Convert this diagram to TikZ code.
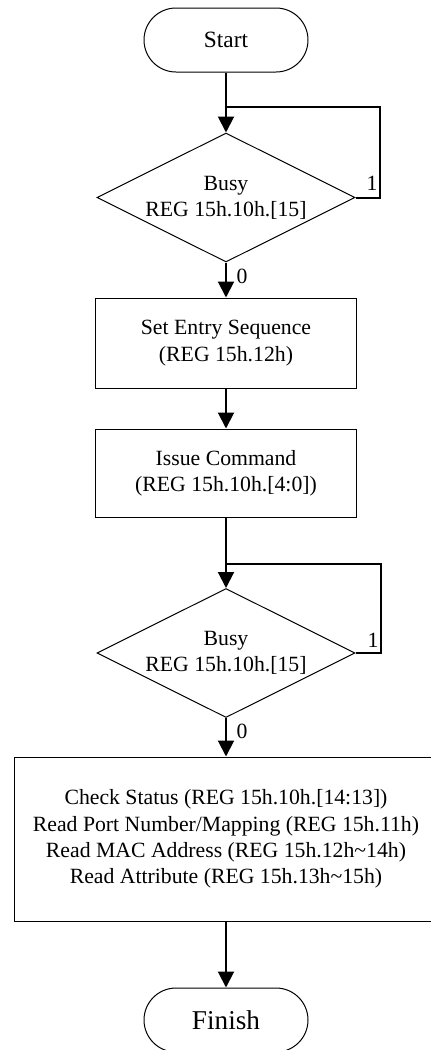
\documentclass[tikz,border=0pt]{standalone}
\usepackage{fontspec}
\setmainfont{Liberation Serif}
\usetikzlibrary{shapes.geometric,arrows.meta}

\tikzset{every picture/.style={line width=0.75pt}}
\tikzset{
  term/.style={draw,rectangle,rounded corners=24pt,minimum width=123pt,minimum height=48pt,inner sep=0pt},
  decision/.style={draw,diamond,aspect=2,inner sep=0pt,minimum width=193.5pt,minimum height=96.75pt,align=center,font=\fontsize{16.3}{19.6}\selectfont},
  proc/.style={draw,rectangle,minimum width=196pt,inner sep=0pt,align=center,font=\fontsize{16.3}{19.8}\selectfont},
  flow/.style={line width=1.5pt},
  arr/.style={flow,-{Triangle[width=12pt,length=12pt]}},
  lbl/.style={inner sep=0pt,font=\fontsize{16.3}{19.6}\selectfont},
}

\begin{document}
\begin{tikzpicture}[x=0.75pt,y=0.75pt,yscale=-1,xscale=1]
\useasboundingbox (0,0) rectangle (430,1050); %diagram is 430 wide and 1050 high

%Shape: Terminal
\node[term,font=\fontsize{17.5}{21}\selectfont] (start) at (226,40) {Start};
%Shape: Diamond
\node[decision] (busyA) at (226,197.5) {Busy\\REG 15h.10h.[15]};
%Shape: Rectangle
\node[proc,minimum height=67.5pt] (entry) at (226,343) {Set Entry Sequence\\(REG 15h.12h)};
%Shape: Rectangle
\node[proc,minimum height=66pt] (issue) at (226,473) {Issue Command\\(REG 15h.10h.[4:0])};
%Shape: Diamond
\node[decision] (busyB) at (226,653) {Busy\\REG 15h.10h.[15]};
%Shape: Rectangle
\node[proc,minimum width=318pt,minimum height=123pt] (read) at (226,839) {Check Status (REG 15h.10h.[14:13])\\Read Port Number/Mapping (REG 15h.11h)\\Read MAC Address (REG 15h.12h\textasciitilde 14h)\\Read Attribute (REG 15h.13h\textasciitilde 15h)};
%Shape: Terminal
\node[term,font=\fontsize{20.4}{24}\selectfont] (finish) at (226,1020) {Finish};

%Loop corners
\coordinate (loopA) at (226,107);
\coordinate (turnA) at (380,107);
\coordinate (loopB) at (226,564);
\coordinate (turnB) at (381,564);

%Straight Lines
\draw[arr] (start) -- (busyA);
\draw[flow] (busyA.east) -| (turnA) -- (loopA);
\draw[arr] (busyA) -- (entry);
\draw[arr] (entry) -- (issue);
\draw[arr] (issue) -- (busyB);
\draw[flow] (busyB.east) -| (turnB) -- (loopB);
\draw[arr] (busyB) -- (read);
\draw[arr] (read) -- (finish);

% Text Node
\node[lbl] (oneA) at (372,183) {1};
% Text Node
\node[lbl] (zeroA) at (242,276) {0};
% Text Node
\node[lbl] (oneB) at (373,640) {1};
% Text Node
\node[lbl] (zeroB) at (242,731) {0};

\end{tikzpicture}
\end{document}
